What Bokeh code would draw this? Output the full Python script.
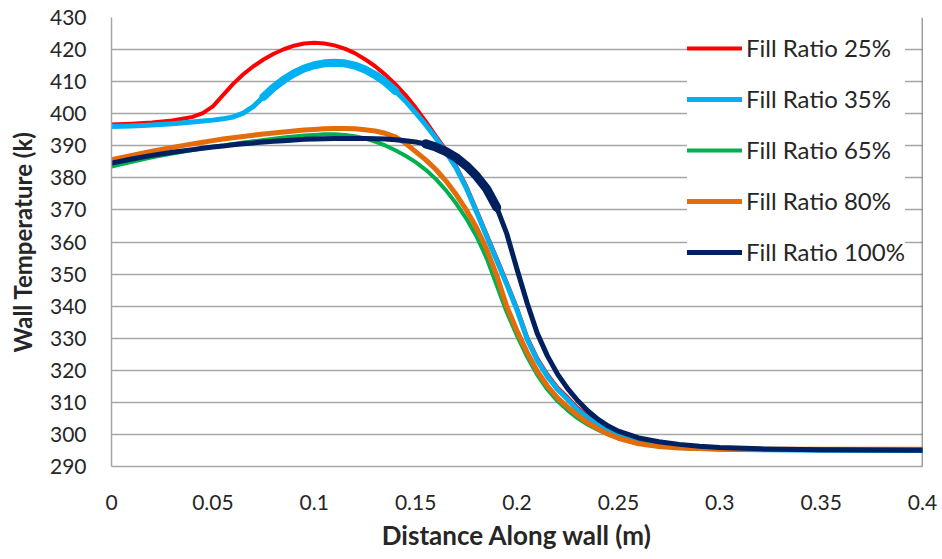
import numpy as np
from bokeh.plotting import figure
from bokeh.models import Range1d, FixedTicker, Span, Legend, LegendItem, NumeralTickFormatter
from bokeh.embed import file_html
from bokeh.resources import INLINE

# Distance along wall (m)
x_m = [0, 0.01, 0.02, 0.03, 0.04, 0.045, 0.05, 0.055, 0.06, 0.065, 0.07, 0.075,
       0.08, 0.085, 0.09, 0.095, 0.1, 0.105, 0.11, 0.115, 0.12, 0.125, 0.13, 0.135,
       0.14, 0.145, 0.15, 0.155, 0.16, 0.165, 0.17, 0.175, 0.18, 0.185, 0.19, 0.195,
       0.2, 0.205, 0.21, 0.215, 0.22, 0.225, 0.23, 0.235, 0.24, 0.245, 0.25, 0.26,
       0.27, 0.28, 0.29, 0.3, 0.32, 0.35, 0.4]

# Wall temperature (K) per fill ratio
fill_25 = [396.6, 396.9, 397.3, 397.9, 399.0, 400.2, 402.3, 405.8, 409.3, 412.3, 414.8, 416.9,
           418.7, 420.1, 421.2, 421.9, 422.1, 421.9, 421.3, 420.3, 418.9, 417.0, 414.8, 412.2,
           409.2, 405.8, 401.9, 397.6, 393.0, 388.6, 383.6, 377.4, 370.0, 362.4, 354.9, 347.3,
           339.4, 330.3, 323.7, 318.7, 314.6, 311.5, 308.2, 305.7, 303.6, 301.9, 300.5, 298.4,
           297.1, 296.3, 295.8, 295.5, 295.3, 295.1, 295.0]
fill_35 = [396.0, 396.2, 396.5, 396.9, 397.4, 397.7, 398.0, 398.4, 399.0, 400.2, 402.3, 405.3,
           408.2, 410.6, 412.6, 414.1, 415.1, 415.7, 415.9, 415.7, 415.0, 413.8, 412.1, 409.9,
           407.1, 403.9, 400.3, 396.5, 392.4, 388.0, 383.0, 376.8, 369.4, 361.8, 354.3, 346.7,
           338.8, 329.7, 323.1, 318.1, 314.0, 310.9, 307.6, 305.1, 303.0, 301.3, 299.9, 297.9,
           296.7, 296.0, 295.6, 295.4, 295.2, 295.1, 295.0]
fill_65 = [383.5, 385.0, 386.4, 387.6, 388.7, 389.2, 389.7, 390.1, 390.6, 391.0, 391.4, 391.8,
           392.2, 392.6, 392.9, 393.2, 393.4, 393.6, 393.6, 393.4, 393.0, 392.3, 391.3, 390.1,
           388.6, 386.9, 384.9, 382.5, 379.6, 376.1, 372.0, 367.3, 361.8, 355.0, 346.5, 338.0,
           330.8, 324.2, 318.6, 314.0, 310.4, 307.5, 305.0, 303.0, 301.4, 300.0, 298.9, 297.3,
           296.3, 295.8, 295.5, 295.4, 295.3, 295.2, 295.2]
fill_80 = [385.7, 387.0, 388.3, 389.5, 390.6, 391.1, 391.6, 392.1, 392.5, 392.9, 393.3, 393.7,
           394.0, 394.3, 394.6, 394.9, 395.1, 395.3, 395.4, 395.4, 395.3, 395.0, 394.6, 393.9,
           392.8, 390.8, 388.2, 385.6, 382.6, 379.0, 374.8, 370.0, 364.5, 357.8, 349.6, 339.8,
           332.3, 325.6, 319.7, 315.1, 311.4, 308.5, 305.9, 303.6, 301.7, 300.1, 298.8, 297.1,
           296.2, 295.8, 295.6, 295.5, 295.4, 295.4, 295.4]
fill_100 = [384.6, 385.9, 387.0, 388.0, 388.8, 389.2, 389.6, 389.9, 390.3, 390.6, 390.9, 391.2,
            391.4, 391.6, 391.8, 392.0, 392.1, 392.2, 392.3, 392.3, 392.3, 392.3, 392.2, 392.1,
            391.9, 391.6, 391.2, 390.6, 389.6, 388.2, 386.3, 383.8, 380.6, 376.6, 370.8, 362.5,
            351.5, 341.0, 331.5, 324.5, 318.8, 314.3, 310.5, 307.3, 304.7, 302.6, 301.0, 298.9,
            297.7, 296.9, 296.3, 295.9, 295.5, 295.2, 295.1]

series_labels = ["Fill Ratio 25%", "Fill Ratio 35%", "Fill Ratio 65%", "Fill Ratio 80%", "Fill Ratio 100%"]
series_values = [fill_25, fill_35, fill_65, fill_80, fill_100]
series_colors = ["#ff0000", "#00b0f0", "#00b050", "#e46c0a", "#002060"]
series_widths = [4, 5, 4, 5, 5]

x_ticks = [0, 0.05, 0.1, 0.15, 0.2, 0.25, 0.3, 0.35, 0.4]
y_ticks = [290, 300, 310, 320, 330, 340, 350, 360, 370, 380, 390, 400, 410, 420, 430]

FONT = "Lato"
TXT = "#262626"

p = figure(width=942, height=559, output_backend="svg", toolbar_location=None,
           x_range=Range1d(0, 0.4), y_range=Range1d(290, 430),
           min_border_left=111, min_border_right=20, min_border_top=17, min_border_bottom=93)
p.outline_line_color = None
p.background_fill_color = "white"
p.border_fill_color = "white"

p.xgrid.grid_line_color = None
p.ygrid.grid_line_color = "#a6a6a6"
p.ygrid.grid_line_width = 1.5
p.ygrid.ticker = FixedTicker(ticks=y_ticks)

p.xaxis.ticker = FixedTicker(ticks=x_ticks)
p.yaxis.ticker = FixedTicker(ticks=y_ticks)
p.xaxis.formatter = NumeralTickFormatter(format="0.[00]")
for ax in (p.xaxis, p.yaxis):
    ax.axis_line_color = "#a6a6a6"
    ax.axis_line_width = 1.5
    ax.major_tick_line_color = None
    ax.minor_tick_line_color = None
    ax.major_tick_out = 0
    ax.major_tick_in = 0
    ax.major_label_text_font = FONT
    ax.major_label_text_font_size = "21px"
    ax.major_label_text_color = TXT
    ax.axis_label_text_font = FONT
    ax.axis_label_text_font_style = "bold"
    ax.axis_label_text_color = TXT
p.xaxis.axis_label_text_font_size = "26px"
p.yaxis.axis_label_text_font_size = "24px"
p.xaxis.major_label_standoff = 28
p.yaxis.major_label_standoff = 25
p.xaxis.axis_label = "Distance Along wall (m)"
p.yaxis.axis_label = "Wall Temperature (k)"
p.xaxis.axis_label_standoff = 6
p.yaxis.axis_label_standoff = 10

xa = np.array(x_m)
renderers = []
for vals, col, w in zip(series_values, series_colors, series_widths):
    r = p.line(x_m, vals, line_color=col, line_width=w, line_join="round", line_cap="round")
    renderers.append(r)
    ya = np.array(vals)
    # thicker marker-dense stretches as seen in the source chart
    if col == "#00b0f0":
        m = (xa >= 0.075) & (xa <= 0.14)
        p.line(xa[m], ya[m], line_color=col, line_width=8, line_join="round", line_cap="round")
    if col == "#002060":
        m = (xa >= 0.155) & (xa <= 0.19)
        p.line(xa[m], ya[m], line_color=col, line_width=9, line_join="round", line_cap="round")

p.add_layout(Span(location=0.4, dimension="height", line_color="#404040", line_width=1.5))

legend = Legend(items=[LegendItem(label=l, renderers=[r]) for l, r in zip(series_labels, renderers)],
                location=(576, 200))
legend.label_text_font = FONT
legend.label_text_font_size = "24px"
legend.label_text_color = TXT
legend.glyph_width = 55
legend.glyph_height = 20
legend.label_height = 20
legend.spacing = 22
legend.padding = 10
legend.margin = 0
legend.label_standoff = 4
legend.border_line_color = None
legend.background_fill_color = "white"
legend.background_fill_alpha = 1.0
p.add_layout(legend, "center")

open("out.html", "w").write(file_html(p, INLINE))
